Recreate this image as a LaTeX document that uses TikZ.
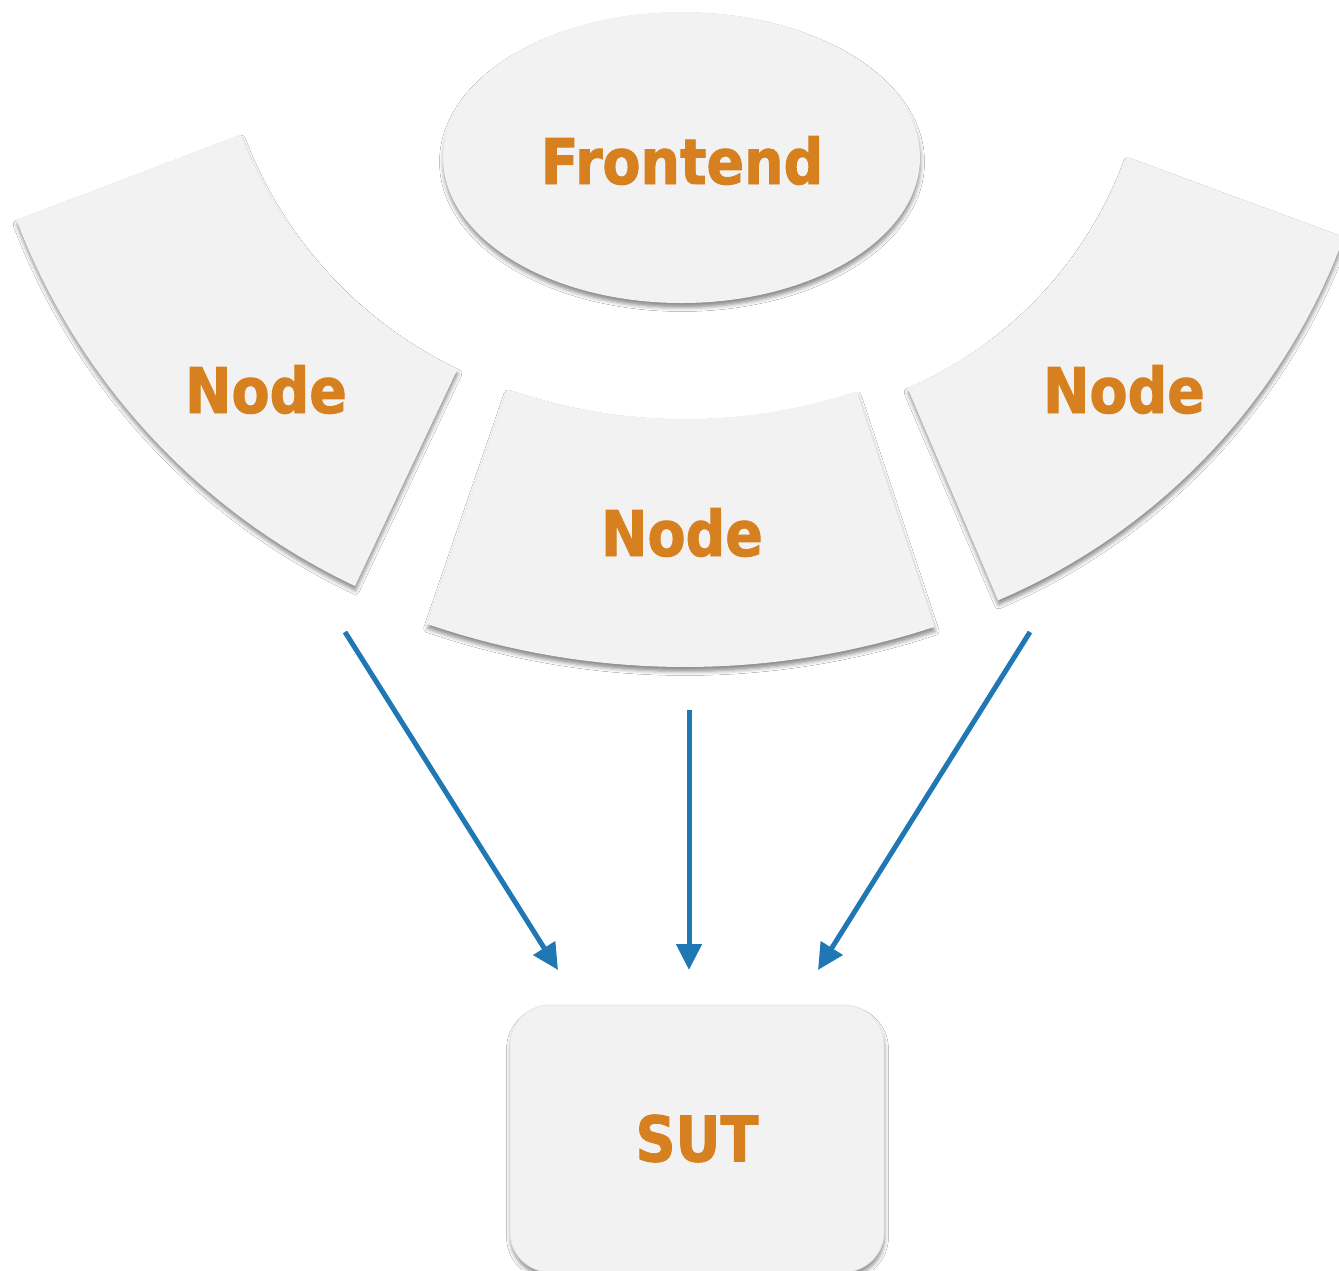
\documentclass[tikz,border=0pt]{standalone}
\usepackage{fontspec}
\newfontfamily\lblfont{DejaVu Sans}[FakeStretch=0.88, BoldFeatures={FakeBold=1.5}]
\usetikzlibrary{shapes.geometric,arrows.meta,shadows.blur}

\definecolor{panelgray}{HTML}{F2F2F2}
\definecolor{labelorange}{RGB}{214,128,32}
\definecolor{arrowblue}{RGB}{31,120,180}

\tikzset{
  panel/.style={fill=panelgray,
    blur shadow={shadow xshift=0.5pt, shadow yshift=-4.5pt,
                 shadow blur radius=4pt, shadow opacity=45}},
  lbl/.style={font=\lblfont\bfseries\fontsize{63}{70}\selectfont,
              text=labelorange, inner sep=0pt},
  flow/.style={draw=arrowblue, line width=5pt,
               -{Triangle[length=26pt,width=25pt]}},
}

\begin{document}
\begin{tikzpicture}[x=1pt,y=-1pt]
\useasboundingbox (0,0) rectangle (1339,1270);
\fill[white] (0,0) rectangle (1339,1270);
\clip (0,0) rectangle (1339,1270);

% frontend ellipse
\node[panel, ellipse, minimum width=477pt, minimum height=291pt, inner sep=0pt]
  (frontend) at (681.5,157.5) {};
\node[lbl, anchor=base] (frontlbl) at (682,184) {Frontend};

% three ring segments (angles measured with y pointing down)
\begin{scope}[shift={(640,-17)}]
  \path[panel] (159.2:427) arc[start angle=159.2, end angle=115.3, radius=427]
    -- (115.3:667) arc[start angle=115.3, end angle=159.2, radius=667] -- cycle;
\end{scope}
\begin{scope}[shift={(685,-128)}]
  \path[panel] (108.93:547) arc[start angle=108.93, end angle=71.7, radius=547]
    -- (71.7:795) arc[start angle=71.7, end angle=108.93, radius=795] -- cycle;
\end{scope}
\begin{scope}[shift={(750,18)}]
  \path[panel] (66.93:402) arc[start angle=66.93, end angle=20.25, radius=402]
    -- (20.25:633) arc[start angle=20.25, end angle=66.93, radius=633] -- cycle;
\end{scope}

\node[lbl, anchor=base] (nodeL) at (266,413) {Node};
\node[lbl, anchor=base] (nodeM) at (682,556) {Node};
\node[lbl, anchor=base] (nodeR) at (1124,413) {Node};

% system under test
\node[panel, lbl, draw=black!10, line width=0.8pt, rounded corners=40pt,
      minimum width=374pt, minimum height=267pt]
  (sut) at (697,1138.5) {SUT};

% arrows from the segments down to the SUT
\coordinate (a1) at (345,632);  \coordinate (b1) at (558,970);
\coordinate (a2) at (689,710);  \coordinate (b2) at (689,970);
\coordinate (a3) at (1030,632); \coordinate (b3) at (818,970);
\draw[flow] (a1) -- (b1);
\draw[flow] (a2) -- (b2);
\draw[flow] (a3) -- (b3);
\end{tikzpicture}
\end{document}
